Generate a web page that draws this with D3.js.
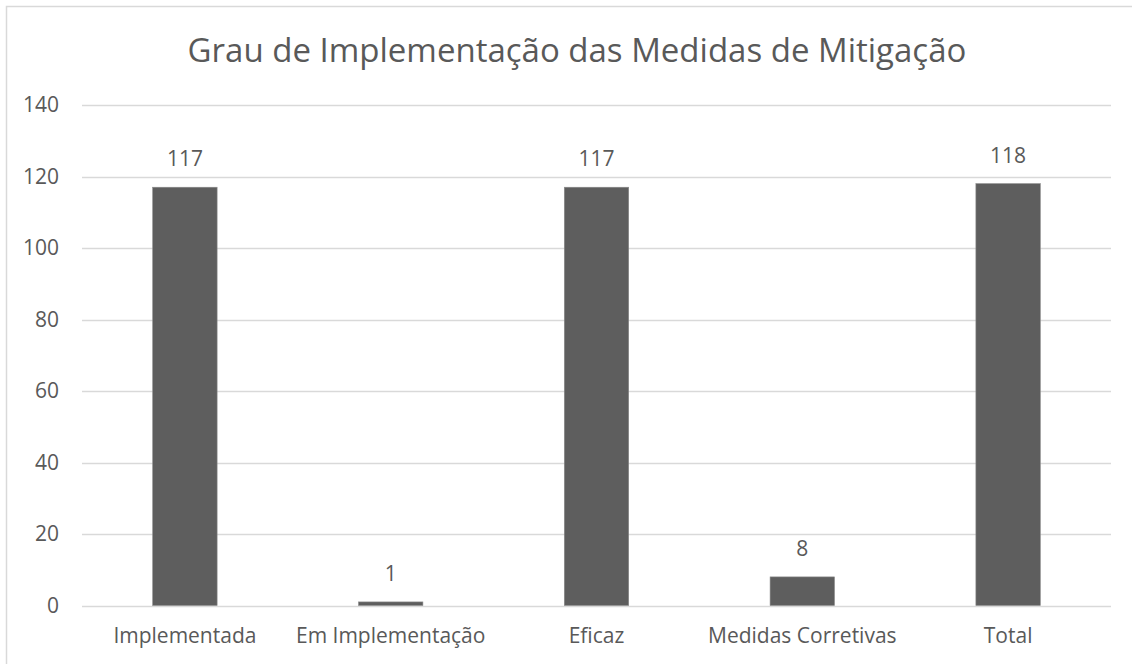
<!DOCTYPE html>
<html><head><meta charset="utf-8">
<script src="https://cdn.jsdelivr.net/npm/d3@7"></script>
<style>
html,body{margin:0;padding:0;background:#fff;}
text{font-family:"Open Sans",Carlito,Calibri,sans-serif;fill:#595959;}
</style></head>
<body>
<svg id="chart" width="1132" height="664"></svg>
<script>
const title = "Grau de Implementação das Medidas de Mitigação";
const categories = ["Implementada","Em Implementação","Eficaz","Medidas Corretivas","Total"];
const values = [117, 1, 117, 8, 118];
const yTicks = [0,20,40,60,80,100,120,140];

const svg = d3.select("#chart");
const W = 1132, H = 664;
const m = {left:82, right:21, top:105, bottom:58};

svg.append("rect").attr("x",6.5).attr("y",6.5).attr("width",W+20).attr("height",H+20)
  .attr("fill","#fff").attr("stroke","#d9d9d9").attr("stroke-width",1.5);

const x = d3.scaleBand().domain(categories).range([m.left, W-m.right]).padding(0);
const y = d3.scaleLinear().domain([0,140]).range([H-m.bottom-0.5, m.top]);

// gridlines
svg.append("g").selectAll("line").data(yTicks).join("line")
  .attr("x1",m.left).attr("x2",W-m.right)
  .attr("y1",d=>Math.round(y(d))+0.5).attr("y2",d=>Math.round(y(d))+0.5)
  .attr("stroke","#d9d9d9").attr("stroke-width",1.3);

// y axis labels
const yAxis = d3.axisLeft(y).tickValues(yTicks).tickSize(0).tickPadding(23);
const ga = svg.append("g").attr("transform",`translate(${m.left},0)`).call(yAxis);
ga.select(".domain").remove();
ga.selectAll("text").style("font-size","21px").attr("fill","#595959").style("font-family",null);

// bars
const bw = x.bandwidth()*0.313;
svg.append("g").selectAll("rect").data(values).join("rect")
  .attr("x",(d,i)=>x(categories[i])+x.bandwidth()/2-bw/2)
  .attr("width",bw)
  .attr("y",d=>y(d))
  .attr("height",d=>y(0)-y(d))
  .attr("fill","#5e5e5e").attr("stroke","#8a8a8a").attr("stroke-width",0.6);

// data labels
svg.append("g").selectAll("text").data(values).join("text")
  .attr("x",(d,i)=>x(categories[i])+x.bandwidth()/2)
  .attr("y",d=>y(d)-21)
  .attr("text-anchor","middle").style("font-size","21px")
  .text(d=>d);

// category labels
const xAxis = d3.axisBottom(x).tickSize(0).tickPadding(23);
const gx = svg.append("g").attr("transform",`translate(0,${y(0)})`).call(xAxis);
gx.select(".domain").remove();
gx.selectAll("text").style("font-size","21px").attr("fill","#595959").style("font-family",null);

// title
svg.append("text").attr("x",577).attr("y",62).attr("text-anchor","middle")
  .style("font-size","33px").text(title);
</script>
</body></html>
